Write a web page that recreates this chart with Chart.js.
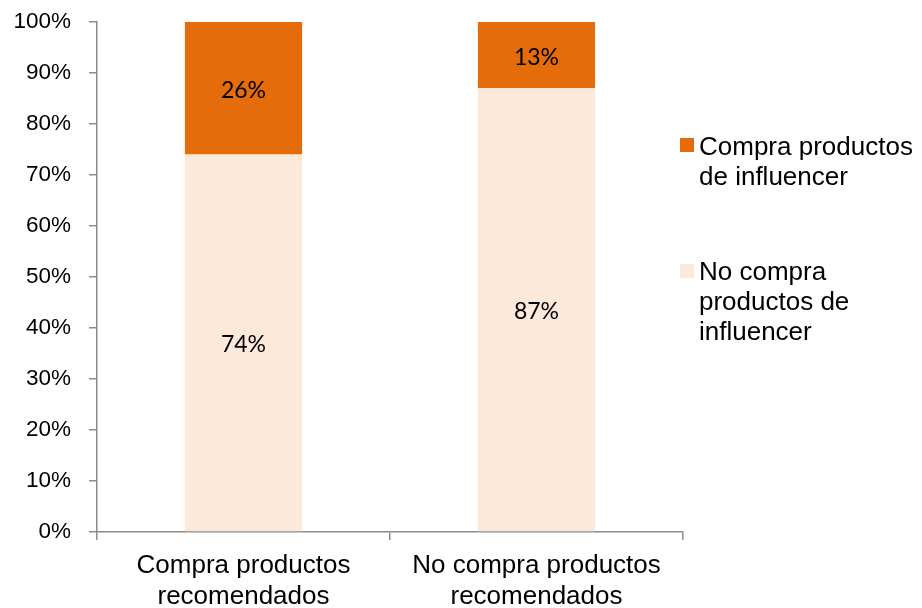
<!DOCTYPE html>
<html>
<head>
<meta charset="utf-8">
<script src="https://cdn.jsdelivr.net/npm/chart.js@4/dist/chart.umd.min.js"></script>
<style>
  html, body { margin: 0; padding: 0; background: #fff; }
  #wrap { position: relative; width: 922px; height: 608px; }
  #chart { position: absolute; left: 0; top: 0; }
  .leg { position: absolute; left: 680px; font: 26px "Liberation Sans", Arial, sans-serif; color: #000; line-height: 30px; }
  .leg .box { position: absolute; left: 0; width: 14px; height: 14px; }
  .leg .txt { position: absolute; left: 19px; white-space: nowrap; }
</style>
</head>
<body>
<div id="wrap">
  <canvas id="chart" width="922" height="608"></canvas>
  <div class="leg" id="leg1" style="top:131px">
    <div class="box" style="top:7px;background:#E46C0A"></div>
    <div class="txt">Compra productos<br>de influencer</div>
  </div>
  <div class="leg" id="leg2" style="top:256px">
    <div class="box" style="top:8px;background:#FDE9D9"></div>
    <div class="txt">No compra<br>productos de<br>influencer</div>
  </div>
</div>
<script>
const categories = [['Compra productos', 'recomendados'], ['No compra productos', 'recomendados']];
const noCompra = [74, 87];
const compra = [26, 13];
const yTicks = [0, 10, 20, 30, 40, 50, 60, 70, 80, 90, 100];

const axisColor = '#8c8c8c';

// writes each segment's share in the middle of its bar piece
const segmentLabels = {
  id: 'segmentLabels',
  afterDatasetsDraw(chart) {
    const ctx = chart.ctx;
    ctx.save();
    ctx.font = '23px Lato, "Open Sans", sans-serif';
    ctx.fillStyle = '#000';
    ctx.textAlign = 'center';
    ctx.textBaseline = 'middle';
    chart.data.datasets.forEach((ds, i) => {
      chart.getDatasetMeta(i).data.forEach((bar, j) => {
        ctx.fillText(ds.data[j] + '%', bar.x, (bar.y + bar.base) / 2 + 2);
      });
    });
    ctx.restore();
  }
};

new Chart(document.getElementById('chart'), {
  type: 'bar',
  data: {
    labels: categories,
    datasets: [
      { label: 'No compra productos de influencer', data: noCompra, backgroundColor: '#FDE9D9' },
      { label: 'Compra productos de influencer', data: compra, backgroundColor: '#E46C0A' }
    ]
  },
  options: {
    responsive: false,
    animation: false,
    layout: { padding: { top: 22, right: 239, left: 0, bottom: 0 } },
    plugins: { legend: { display: false }, tooltip: { enabled: false } },
    datasets: { bar: { categoryPercentage: 1, barPercentage: 0.4 } },
    scales: {
      x: {
        stacked: true,
        grid: { drawOnChartArea: false, tickLength: 8, color: axisColor, lineWidth: 1.5 },
        border: { color: axisColor, width: 1.5 },
        ticks: { color: '#000', padding: 10, maxRotation: 0, font: { family: '"Liberation Sans", Arial, sans-serif', size: 26 } },
        afterFit(scale) { scale.height = 76; scale.paddingLeft = 0; scale.paddingRight = 0; }
      },
      y: {
        stacked: true,
        min: 0,
        max: 100,
        afterBuildTicks(scale) { scale.ticks = yTicks.map(v => ({ value: v })); },
        grid: { drawOnChartArea: false, tickLength: 8, color: axisColor, lineWidth: 1.5 },
        border: { color: axisColor, width: 1.5 },
        ticks: { color: '#000', padding: 18, callback: v => v + '%', font: { family: '"Liberation Sans", Arial, sans-serif', size: 22.5 } },
        afterFit(scale) { scale.width = 97; scale.paddingTop = 0; scale.paddingBottom = 0; }
      }
    }
  },
  plugins: [segmentLabels]
});
</script>
</body>
</html>
